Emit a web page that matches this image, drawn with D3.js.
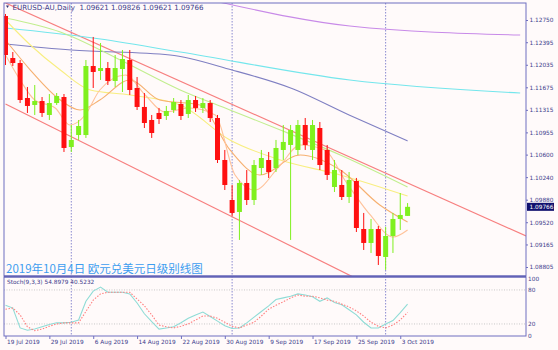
<!DOCTYPE html>
<html><head><meta charset="utf-8">
<script src="https://cdn.jsdelivr.net/npm/d3@7"></script>
<style>body{margin:0;background:#fffafa;}svg{display:block}</style>
</head><body><svg id="c" width="558" height="350"></svg>
<script>
// ---------- DATA ----------
const dates = ["2019-07-19","2019-07-22","2019-07-23","2019-07-24","2019-07-25","2019-07-26","2019-07-29","2019-07-30","2019-07-31","2019-08-01","2019-08-02","2019-08-05","2019-08-06","2019-08-07","2019-08-08","2019-08-09","2019-08-12","2019-08-13","2019-08-14","2019-08-15","2019-08-16","2019-08-19","2019-08-20","2019-08-21","2019-08-22","2019-08-23","2019-08-26","2019-08-27","2019-08-28","2019-08-29","2019-08-30","2019-09-02","2019-09-03","2019-09-04","2019-09-05","2019-09-06","2019-09-09","2019-09-10","2019-09-11","2019-09-12","2019-09-13","2019-09-16","2019-09-17","2019-09-18","2019-09-19","2019-09-20","2019-09-23","2019-09-24","2019-09-25","2019-09-26","2019-09-27","2019-09-30","2019-10-01","2019-10-02","2019-10-03","2019-10-04"];
const open  = [1.12814,1.12143,1.12063,1.11504,1.11393,1.11456,1.11233,1.11424,1.11520,1.10722,1.10913,1.10913,1.12015,1.11936,1.11983,1.11776,1.11967,1.12111,1.11664,1.11361,1.11153,1.11265,1.11217,1.11313,1.11409,1.11249,1.11472,1.11345,1.11424,1.11185,1.10514,1.09875,1.09684,1.10147,1.09875,1.10386,1.10514,1.10386,1.10674,1.10754,1.10674,1.11073,1.10674,1.11025,1.10674,1.10083,1.10115,1.09923,1.10179,1.09412,1.09189,1.09412,1.08965,1.09300,1.09572,1.09621];
const high  = [1.12846,1.12239,1.12111,1.11680,1.11712,1.11520,1.11568,1.11584,1.11568,1.11073,1.11153,1.12111,1.12479,1.12383,1.12079,1.12191,1.12271,1.12271,1.11840,1.11584,1.11233,1.11345,1.11377,1.11504,1.11472,1.11552,1.11536,1.11504,1.11472,1.11233,1.10674,1.10115,1.10195,1.10354,1.10514,1.10674,1.10642,1.10834,1.11073,1.11073,1.11153,1.11185,1.11153,1.11121,1.10754,1.10514,1.10354,1.10322,1.10227,1.09668,1.09572,1.09460,1.09444,1.09668,1.09987,1.09826];
const low   = [1.12031,1.12015,1.11424,1.11265,1.11233,1.11201,1.11153,1.11393,1.10642,1.10642,1.10834,1.10866,1.11664,1.11792,1.11712,1.11680,1.11600,1.11552,1.11313,1.11025,1.10866,1.11089,1.11153,1.11265,1.11153,1.11185,1.11281,1.11265,1.11121,1.10466,1.10035,1.09620,1.09237,1.09795,1.09795,1.10275,1.10227,1.10322,1.10514,1.09237,1.10594,1.10674,1.10514,1.10354,1.10195,1.10003,1.09875,1.09827,1.09364,1.09077,1.09029,1.08837,1.08758,1.09029,1.09396,1.09621];
const close = [1.12191,1.12063,1.11472,1.11377,1.11456,1.11265,1.11424,1.11536,1.10706,1.10834,1.11057,1.12015,1.11920,1.11983,1.11776,1.11983,1.12127,1.11632,1.11361,1.11105,1.10945,1.11169,1.11297,1.11440,1.11217,1.11472,1.11345,1.11424,1.11185,1.10514,1.10115,1.09668,1.10147,1.09875,1.10434,1.10546,1.10322,1.10706,1.10802,1.10993,1.11073,1.10754,1.11073,1.10434,1.10275,1.10354,1.09923,1.10195,1.09428,1.09189,1.09412,1.08981,1.09300,1.09572,1.09636,1.09766];

const stochK = [53,48,13,9,11,15,19,22,22,23,27,60,78,85,76,76,76,73,57,38,24,11,13,15,22,30,36,41,33,25,17,12,13,22,32,42,52,63,66,69,73,71,68,60,66,58,54,45,36,23,13,13,20,26,40,54.8979];
const stochD = [46,48,36,15,8,11,16,20,22,22,22,42,62,73,76,76,76,76,64,52,36,18,15,13,16,20,27,34,34,30,23,16,13,18,23,34,46,53,59,66,71,69,69,66,62,60,55,50,43,34,23,16,13,18,27,40.5232];

// moving averages: [bar index, price]
const maPurple = [[25,1.13149],[29.8,1.13022],[47.1,1.12654],[70.4,1.12510]];
const maCyan   = [[0,1.12622],[12,1.12463],[23.9,1.12239],[47.1,1.11792],[70.4,1.11584]];
const maSlate  = [[0,1.12367],[9,1.12271],[22.5,1.12191],[31,1.11951],[39,1.11664],[47,1.11233],[55,1.10818]];
const maGreen  = [[0,1.12782],[7.5,1.12558],[15.7,1.12111],[23.9,1.11632],[30.7,1.11313],[37.6,1.10993],[45.8,1.10594],[55,1.10083]];
const maYellow = [[0,1.12750],[3.4,1.12351],[7.5,1.11951],[11.6,1.11632],[17,1.11552],[23.9,1.11393],[30.7,1.10834],[37.6,1.10514],[45.8,1.10275],[55,1.09939]];
const maOrange = [[0,1.12431],[3.4,1.11951],[7.5,1.11472],[10.2,1.11313],[12.9,1.11472],[17,1.11792],[21.1,1.11472],[26.6,1.11393],[30.7,1.10674],[34.8,1.10275],[40.3,1.10594],[45.8,1.10354],[51.2,1.09795],[55,1.09524]];
const maSalmon = [[0,1.12191],[2,1.11792],[4,1.11472],[6.8,1.11345],[8.8,1.11073],[10.9,1.11233],[12.9,1.11632],[16.4,1.11872],[19.1,1.11552],[21.8,1.11281],[25.2,1.11345],[28.7,1.11233],[31.4,1.10275],[34.1,1.10035],[37.6,1.10434],[40.3,1.10754],[43.7,1.10674],[46.4,1.10195],[49.9,1.09636],[53,1.09284],[55,1.09396]];

const channelTime  = [0, 71.2];
const channelUpper = [1.13022, 1.09301];
const channelLower = [1.11409, 1.07271];

const priceTicks = [1.12750,1.12395,1.12035,1.11675,1.11315,1.10955,1.10600,1.10240,1.09880,1.09520,1.09165,1.08805];
const stochTicks = [100,80,20,0];
const stochLevels = [80,20];
const timeTickDates = ["2019-07-19","2019-07-29","2019-08-06","2019-08-14","2019-08-22","2019-08-30","2019-09-09","2019-09-17","2019-09-25","2019-10-03"];
const timeTickLabels = ["19 Jul 2019","29 Jul 2019","6 Aug 2019","14 Aug 2019","22 Aug 2019","30 Aug 2019","9 Sep 2019","17 Sep 2019","25 Sep 2019","3 Oct 2019"];
const separatorDates = ["2019-08-01","2019-09-02","2019-10-01"];
const headerText = "EURUSD-AU,Daily\u00a0\u00a01.09621 1.09826 1.09621 1.09766";
const stochText = "Stoch(9,3,3) 54.8979 40.5232";
const titleText = "2019年10月4日 欧元兑美元日级别线图";
const lastPrice = 1.09766;

// ---------- LAYOUT ----------
const L = 4, R = 526, mainTop = 3, mainBot = 276, stTop = 277, stBot = 336;
const axisCol = "#6f6fc0", textCol = "#3c3c8c";
const svg = d3.select("#c");
const x = d3.scaleLinear().domain([0, 71.2]).range([5.5, R]);
const y = d3.scaleLinear().domain([1.12750, 1.08805]).range([20, 267]);
const ys = d3.scaleLinear().domain([0, 100]).range([335.3, 278.6]);
const idx = d => dates.indexOf(d);

const defs = svg.append("defs");
defs.append("clipPath").attr("id","cm").append("rect").attr("x",L).attr("y",mainTop).attr("width",R-L).attr("height",mainBot-mainTop);
defs.append("clipPath").attr("id","cs").append("rect").attr("x",L).attr("y",stTop).attr("width",R-L).attr("height",stBot-stTop);

// separators
svg.append("g").selectAll("line").data(separatorDates).join("line")
  .attr("x1",d=>x(idx(d))).attr("x2",d=>x(idx(d))).attr("y1",mainTop).attr("y2",stBot)
  .attr("stroke","#8a8ad0").attr("stroke-width",1).attr("stroke-dasharray","1.5,1.5");

const gm = svg.append("g").attr("clip-path","url(#cm)");
// channel
[channelUpper, channelLower].forEach(c=>{
  gm.append("line").attr("x1",x(channelTime[0])).attr("y1",y(c[0])).attr("x2",x(channelTime[1])).attr("y2",y(c[1]))
    .attr("stroke","#f77f7f").attr("stroke-width",1.2);
});
// MAs
const lineGen = d3.line().x(d=>x(d[0])).y(d=>y(d[1])).curve(d3.curveMonotoneX);
[[maPurple,"#c88ae8"],[maCyan,"#74e6ec"],[maSlate,"#7f7fc2"],[maGreen,"#c2ee8e"],[maYellow,"#f8ee80"],[maOrange,"#f6b070"],[maSalmon,"#ffc29a"]].forEach(([d,c])=>{
  gm.append("path").datum(d).attr("d",lineGen).attr("fill","none").attr("stroke",c).attr("stroke-width",1.1);
});
// candles
const bars = dates.map((d,i)=>({i,o:open[i],h:high[i],l:low[i],c:close[i]}));
const up = "#7ff01e", dn = "#ff1010";
const cg = gm.append("g");
cg.selectAll("line").data(bars).join("line")
  .attr("x1",d=>x(d.i)).attr("x2",d=>x(d.i)).attr("y1",d=>y(d.h)).attr("y2",d=>y(d.l))
  .attr("stroke",d=>d.c>=d.o?up:dn).attr("stroke-width",1);
cg.selectAll("rect").data(bars).join("rect")
  .attr("x",d=>x(d.i)-2.5).attr("width",5)
  .attr("y",d=>y(Math.max(d.o,d.c))).attr("height",d=>Math.max(1,Math.abs(y(d.o)-y(d.c))))
  .attr("fill",d=>d.c>=d.o?up:dn);

// stochastic
const gs = svg.append("g").attr("clip-path","url(#cs)");
gs.selectAll("line.lv").data(stochLevels).join("line").attr("class","lv")
  .attr("x1",L).attr("x2",R).attr("y1",d=>ys(d)).attr("y2",d=>ys(d))
  .attr("stroke","#c8c8c8").attr("stroke-dasharray","1,1.5");
const sl = d3.line().x((d,i)=>x(i)).y(d=>ys(d));
gs.append("path").datum(stochK).attr("d",sl).attr("fill","none").attr("stroke","#8fdcd6").attr("stroke-width",1.1);
gs.append("path").datum(stochD).attr("d",sl).attr("fill","none").attr("stroke","#ff8080").attr("stroke-width",1.1).attr("stroke-dasharray","1.5,1.5");

// frames
svg.append("rect").attr("x",L).attr("y",mainTop).attr("width",R-L).attr("height",mainBot-mainTop).attr("fill","none").attr("stroke",axisCol).attr("stroke-width",1);
svg.append("rect").attr("x",L).attr("y",stTop).attr("width",R-L).attr("height",stBot-stTop).attr("fill","none").attr("stroke",axisCol).attr("stroke-width",1);
svg.append("line").attr("x1",L).attr("x2",R).attr("y1",mainBot+0.5).attr("y2",mainBot+0.5).attr("stroke","#6262b6").attr("stroke-width",2);

// axes
const fontF = "Tahoma, 'DejaVu Sans', 'Liberation Sans', sans-serif";
const ay = svg.append("g").attr("transform",`translate(${R},0)`)
  .call(d3.axisRight(y).tickValues(priceTicks).tickFormat(d=>d.toFixed(5)).tickSize(2).tickPadding(1.5));
const as = svg.append("g").attr("transform",`translate(${R},0)`)
  .call(d3.axisRight(ys).tickValues(stochTicks).tickFormat(d3.format("d")).tickSize(0).tickPadding(2));
const ax = svg.append("g").attr("transform",`translate(0,${stBot})`)
  .call(d3.axisBottom(x).tickValues(timeTickDates.map(idx)).tickFormat((d,i)=>timeTickLabels[i]).tickSize(3).tickPadding(0.5));
[ay,as,ax].forEach(g=>{
  g.select(".domain").attr("stroke",axisCol);
  g.selectAll(".tick line").attr("stroke",axisCol);
  g.selectAll("text").attr("fill",textCol).attr("font-family",fontF).attr("font-size","5.8px");
});
ax.selectAll("text").attr("text-anchor","start").attr("dx","1");
ay.select(".domain").remove(); as.select(".domain").remove(); ax.select(".domain").remove();

// last price label
const lp = svg.append("g").attr("transform",`translate(${R+1},${y(lastPrice)})`);
lp.append("rect").attr("x",0).attr("y",-4).attr("width",27).attr("height",8).attr("fill","#10106e");
lp.append("text").attr("x",2.5).attr("y",0).attr("dy","0.35em").attr("fill","#fff").attr("font-family",fontF).attr("font-size","5.8px").text(lastPrice.toFixed(5));

// texts
svg.append("path").attr("d","M6,5.5 L9,5.5 L7.5,8 Z").attr("fill","#303070");
svg.append("text").attr("x",12.5).attr("y",9.5).attr("fill","#3c3c8c").attr("font-family",fontF).attr("font-size","7.1px").text(headerText);
svg.append("text").attr("x",7).attr("y",284).attr("fill","#3c3c8c").attr("font-family",fontF).attr("font-size","5.8px").text(stochText);
svg.append("text").attr("x",6).attr("y",273).attr("fill","#3d9df0").attr("font-family","'Noto Sans CJK SC', sans-serif").attr("font-size","11.5px").text(titleText);
</script></body></html>
